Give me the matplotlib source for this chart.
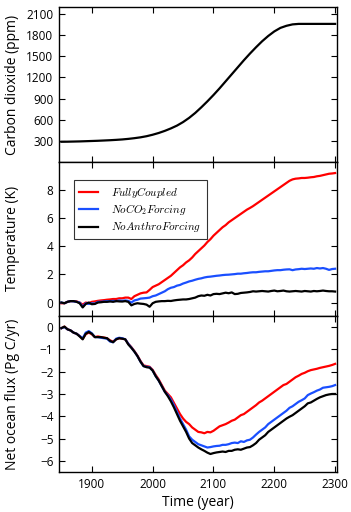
import numpy as np
import matplotlib
matplotlib.use("Agg")
import matplotlib.pyplot as plt

plt.rcParams['font.family'] = ['Open Sans', 'DejaVu Sans']
plt.rcParams['mathtext.fontset'] = 'cm'

# Atmospheric CO2 (ppm), decadal
co2_years = list(range(1850, 2301, 10))
co2_ppm = [285, 286, 288, 290, 293, 296, 299, 303, 307, 312,
           318, 326, 336, 348, 364, 385, 410, 440, 475, 515,
           565, 625, 695, 775, 860, 950, 1045, 1145, 1245, 1345,
           1445, 1540, 1630, 1715, 1790, 1855, 1905, 1935, 1955, 1962,
           1962, 1962, 1962, 1962, 1962, 1962]

# Temperature and ocean flux, 5-year steps
years = list(range(1850, 2301, 5))

temp_full = [-0.05, -0.05, 0.05, 0.1, 0.1, 0.08, 0.0, -0.15, 0.0, -0.05,
             0.05, 0.08, 0.12, 0.15, 0.17, 0.2, 0.22, 0.25, 0.25, 0.3,
             0.3, 0.35, 0.35, 0.25, 0.45, 0.55, 0.65, 0.7, 0.72, 0.9,
             1.1, 1.2, 1.3, 1.45, 1.6, 1.75, 1.9, 2.1, 2.3, 2.5,
             2.65, 2.85, 3.0, 3.2, 3.45, 3.65, 3.85, 4.05, 4.3, 4.5,
             4.75, 4.95, 5.15, 5.35, 5.5, 5.7, 5.85, 6.0, 6.15, 6.3,
             6.45, 6.6, 6.72, 6.85, 7.0, 7.15, 7.3, 7.45, 7.6, 7.75,
             7.9, 8.05, 8.2, 8.35, 8.5, 8.65, 8.75, 8.8, 8.82, 8.85,
             8.85, 8.87, 8.9, 8.92, 8.97, 9.0, 9.05, 9.1, 9.15, 9.17,
             9.2]

temp_noco2 = [0.0, -0.05, 0.05, 0.1, 0.08, 0.05, 0.0, -0.3, -0.05, -0.1,
              -0.05, -0.08, 0.05, 0.05, 0.08, 0.1, 0.1, 0.12, 0.1, 0.15,
              0.12, 0.15, 0.12, 0.0, 0.15, 0.2, 0.28, 0.3, 0.32, 0.35,
              0.45, 0.5, 0.6, 0.7, 0.8, 0.95, 1.05, 1.1, 1.2, 1.25,
              1.35, 1.42, 1.5, 1.55, 1.62, 1.68, 1.72, 1.78, 1.82, 1.84,
              1.87, 1.9, 1.92, 1.95, 1.97, 1.98, 2.0, 2.02, 2.05, 2.05,
              2.08, 2.1, 2.13, 2.15, 2.15, 2.18, 2.2, 2.22, 2.22, 2.25,
              2.28, 2.3, 2.3, 2.33, 2.35, 2.36, 2.3, 2.35, 2.37, 2.4,
              2.38, 2.4, 2.42, 2.4, 2.45, 2.42, 2.45, 2.4, 2.32, 2.38,
              2.4]

temp_noanthro = [0.0, -0.05, 0.05, 0.1, 0.1, 0.05, -0.05, -0.35, -0.1, 0.0,
                 -0.12, -0.1, 0.0, 0.02, 0.05, 0.05, 0.08, 0.05, 0.1, 0.08,
                 0.07, 0.1, 0.05, -0.2, -0.1, -0.05, -0.08, -0.1, -0.15, -0.3,
                 -0.05, 0.05, 0.08, 0.1, 0.1, 0.12, 0.11, 0.15, 0.18, 0.2,
                 0.22, 0.22, 0.25, 0.3, 0.35, 0.45, 0.5, 0.48, 0.55, 0.5,
                 0.6, 0.62, 0.6, 0.65, 0.7, 0.66, 0.72, 0.6, 0.62, 0.68,
                 0.7, 0.72, 0.75, 0.8, 0.78, 0.8, 0.82, 0.8, 0.78, 0.82,
                 0.85, 0.8, 0.82, 0.85, 0.8, 0.78, 0.8, 0.82, 0.8, 0.78,
                 0.82, 0.8, 0.78, 0.82, 0.8, 0.82, 0.85, 0.82, 0.8, 0.8,
                 0.78]

flux_full = [-0.05, 0.02, -0.1, -0.15, -0.25, -0.3, -0.4, -0.53, -0.32, -0.25,
             -0.32, -0.45, -0.42, -0.45, -0.47, -0.5, -0.6, -0.65, -0.55, -0.5,
             -0.52, -0.55, -0.75, -0.9, -1.08, -1.28, -1.52, -1.72, -1.75, -1.78,
             -1.92, -2.15, -2.35, -2.6, -2.85, -3.0, -3.15, -3.4, -3.65, -3.9,
             -4.1, -4.25, -4.35, -4.5, -4.6, -4.7, -4.72, -4.76, -4.7, -4.72,
             -4.65, -4.55, -4.45, -4.4, -4.35, -4.28, -4.2, -4.15, -4.05, -3.95,
             -3.9, -3.8, -3.7, -3.6, -3.5, -3.38, -3.3, -3.2, -3.1, -3.0,
             -2.9, -2.8, -2.7, -2.6, -2.55, -2.45, -2.35, -2.25, -2.18, -2.1,
             -2.05, -1.98, -1.93, -1.9, -1.87, -1.83, -1.8, -1.77, -1.74, -1.7,
             -1.65]

flux_noco2 = [-0.05, 0.0, -0.1, -0.15, -0.25, -0.3, -0.4, -0.5, -0.25, -0.18,
              -0.28, -0.45, -0.45, -0.48, -0.5, -0.52, -0.65, -0.68, -0.52, -0.48,
              -0.5, -0.55, -0.75, -0.92, -1.1, -1.3, -1.55, -1.75, -1.78, -1.8,
              -1.95, -2.2, -2.4, -2.65, -2.9, -3.05, -3.25, -3.5, -3.8, -4.1,
              -4.35, -4.6, -4.9, -5.05, -5.15, -5.25, -5.3, -5.35, -5.4, -5.38,
              -5.35, -5.33, -5.32, -5.28, -5.28, -5.25, -5.2, -5.18, -5.2, -5.12,
              -5.15, -5.08, -5.05, -4.95, -4.82, -4.7, -4.6, -4.5, -4.35, -4.25,
              -4.15, -4.05, -3.95, -3.85, -3.75, -3.62, -3.55, -3.45, -3.35, -3.28,
              -3.2, -3.05, -2.98, -2.92, -2.85, -2.8, -2.72, -2.7, -2.68, -2.65,
              -2.6]

flux_noanthro = [-0.05, 0.02, -0.1, -0.15, -0.25, -0.3, -0.42, -0.55, -0.3, -0.22,
                 -0.3, -0.45, -0.45, -0.45, -0.48, -0.5, -0.62, -0.68, -0.55, -0.5,
                 -0.52, -0.55, -0.78, -0.93, -1.1, -1.3, -1.55, -1.75, -1.8, -1.82,
                 -1.95, -2.2, -2.4, -2.65, -2.9, -3.1, -3.33, -3.6, -3.9, -4.2,
                 -4.45, -4.7, -5.0, -5.2, -5.3, -5.4, -5.48, -5.55, -5.63, -5.69,
                 -5.65, -5.62, -5.6, -5.58, -5.6, -5.55, -5.55, -5.5, -5.48, -5.5,
                 -5.45, -5.4, -5.38, -5.3, -5.2, -5.05, -4.95, -4.85, -4.7, -4.6,
                 -4.5, -4.4, -4.3, -4.2, -4.1, -4.02, -3.95, -3.85, -3.75, -3.65,
                 -3.55, -3.42, -3.38, -3.3, -3.22, -3.15, -3.1, -3.05, -3.02, -3.0,
                 -3.0]

labels = [r'$FullyCoupled$', r'$NoCO_2Forcing$', r'$NoAnthroForcing$']
colors = ['#ff0000', '#1a4fff', '#000000']

fig = plt.figure(figsize=(3.51, 5.12), dpi=100)
left, width = 0.168, 0.792
ax1 = fig.add_axes([left, 0.684, width, 0.302])
ax2 = fig.add_axes([left, 0.383, width, 0.301], sharex=ax1)
ax3 = fig.add_axes([left, 0.078, width, 0.305], sharex=ax1)

lw = 1.6
ax1.plot(co2_years, co2_ppm, color='k', lw=lw)
for series, c, lab in zip([temp_full, temp_noco2, temp_noanthro], colors, labels):
    ax2.plot(years, series, color=c, lw=lw, label=lab)
for series, c in zip([flux_full, flux_noco2, flux_noanthro], colors):
    ax3.plot(years, series, color=c, lw=lw)

ax1.set_ylim(0, 2200)
ax1.set_yticks([300, 600, 900, 1200, 1500, 1800, 2100])
ax2.set_ylim(-0.95, 10)
ax2.set_yticks([0, 2, 4, 6, 8])
ax3.set_ylim(-6.5, 0.5)
ax3.set_yticks([0, -1, -2, -3, -4, -5, -6])
ax3.set_xlim(1846, 2303)
ax3.set_xticks([1900, 2000, 2100, 2200, 2300])

for ax in (ax1, ax2, ax3):
    ax.tick_params(direction='in', top=True, right=True, length=4, width=0.8,
                   labelsize=8.5, pad=4)
    for s in ax.spines.values():
        s.set_linewidth(1.0)
for ax in (ax1, ax2):
    ax.tick_params(labelbottom=False)

ax1.set_ylabel('Carbon dioxide (ppm)', fontsize=10)
ax2.set_ylabel('Temperature (K)', fontsize=10)
ax3.set_ylabel('Net ocean flux (Pg C/yr)', fontsize=10)
for ax in (ax1, ax2, ax3):
    ax.yaxis.set_label_coords(-0.14, 0.5)
ax3.set_xlabel('Time (year)', fontsize=10, labelpad=3)

leg = ax2.legend(loc='upper left', bbox_to_anchor=(0.055, 0.885), fontsize=8,
                 frameon=True, fancybox=False, edgecolor='k', handlelength=1.7,
                 borderpad=0.45, labelspacing=0.22, handletextpad=1.2,
                 borderaxespad=0)
leg.get_frame().set_linewidth(0.8)

fig.savefig('out.png', dpi=100)
